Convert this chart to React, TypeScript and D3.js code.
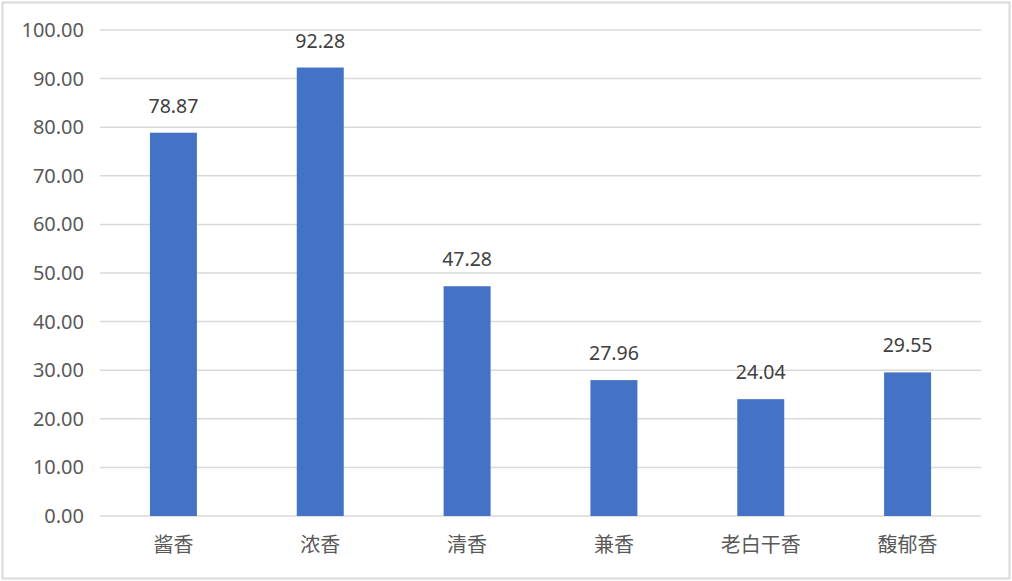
import React, { useEffect, useRef } from 'react';
import * as d3 from 'd3';

const categories = ['酱香', '浓香', '清香', '兼香', '老白干香', '馥郁香'];
const values = [78.87, 92.28, 47.28, 27.96, 24.04, 29.55];
const yTicks = [0, 10, 20, 30, 40, 50, 60, 70, 80, 90, 100];

const W = 1012;
const H = 581;

export default function App() {
  const svgRef = useRef<SVGSVGElement>(null);

  useEffect(() => {
    if (!svgRef.current) return;
    const svg = d3.select(svgRef.current);
    svg.selectAll('*').remove();

    const margin = { top: 30, right: 31, bottom: 65, left: 100 };
    const font = '"Noto Sans", "Noto Sans CJK SC", "DejaVu Sans", sans-serif';

    // frame
    svg.append('rect')
      .attr('x', 2.5).attr('y', 2.5)
      .attr('width', W - 5).attr('height', H - 5)
      .attr('fill', '#fff')
      .attr('stroke', '#d9d9d9')
      .attr('stroke-width', 2);

    const x = d3.scaleBand<string>()
      .domain(categories)
      .range([margin.left, W - margin.right])
      .paddingInner(0.68)
      .paddingOuter(0.34);

    const y = d3.scaleLinear()
      .domain([0, 100])
      .range([H - margin.bottom, margin.top]);

    // gridlines
    svg.append('g')
      .selectAll('line')
      .data(yTicks)
      .join('line')
      .attr('x1', margin.left)
      .attr('x2', W - margin.right)
      .attr('y1', d => y(d))
      .attr('y2', d => y(d))
      .attr('stroke', '#d9d9d9')
      .attr('stroke-width', 1.5);

    // y labels
    svg.append('g')
      .selectAll('text')
      .data(yTicks)
      .join('text')
      .attr('x', margin.left - 16)
      .attr('y', d => y(d))
      .attr('dy', '0.35em')
      .attr('text-anchor', 'end')
      .attr('fill', '#595959')
      .attr('font-family', font)
      .attr('font-size', 20)
      .text(d => d.toFixed(2));

    // bars
    svg.append('g')
      .selectAll('rect')
      .data(values)
      .join('rect')
      .attr('x', (d, i) => x(categories[i])!)
      .attr('y', d => y(d))
      .attr('width', x.bandwidth())
      .attr('height', d => y(0) - y(d))
      .attr('fill', '#4472c4');

    // value labels
    svg.append('g')
      .selectAll('text')
      .data(values)
      .join('text')
      .attr('x', (d, i) => x(categories[i])! + x.bandwidth() / 2)
      .attr('y', d => y(d) - 20)
      .attr('text-anchor', 'middle')
      .attr('fill', '#404040')
      .attr('font-family', font)
      .attr('font-size', 19.5)
      .text(d => d.toFixed(2));

    // category labels
    svg.append('g')
      .selectAll('text')
      .data(categories)
      .join('text')
      .attr('x', d => x(d)! + x.bandwidth() / 2)
      .attr('y', H - margin.bottom + 36)
      .attr('text-anchor', 'middle')
      .attr('fill', '#595959')
      .attr('font-family', font)
      .attr('font-size', 20)
      .text(d => d);
  }, []);

  return (
    <div style={{ position: 'fixed', left: 0, top: 0, width: W, height: H, background: '#fff' }}>
      <svg ref={svgRef} width={W} height={H} style={{ display: 'block' }} />
    </div>
  );
}
